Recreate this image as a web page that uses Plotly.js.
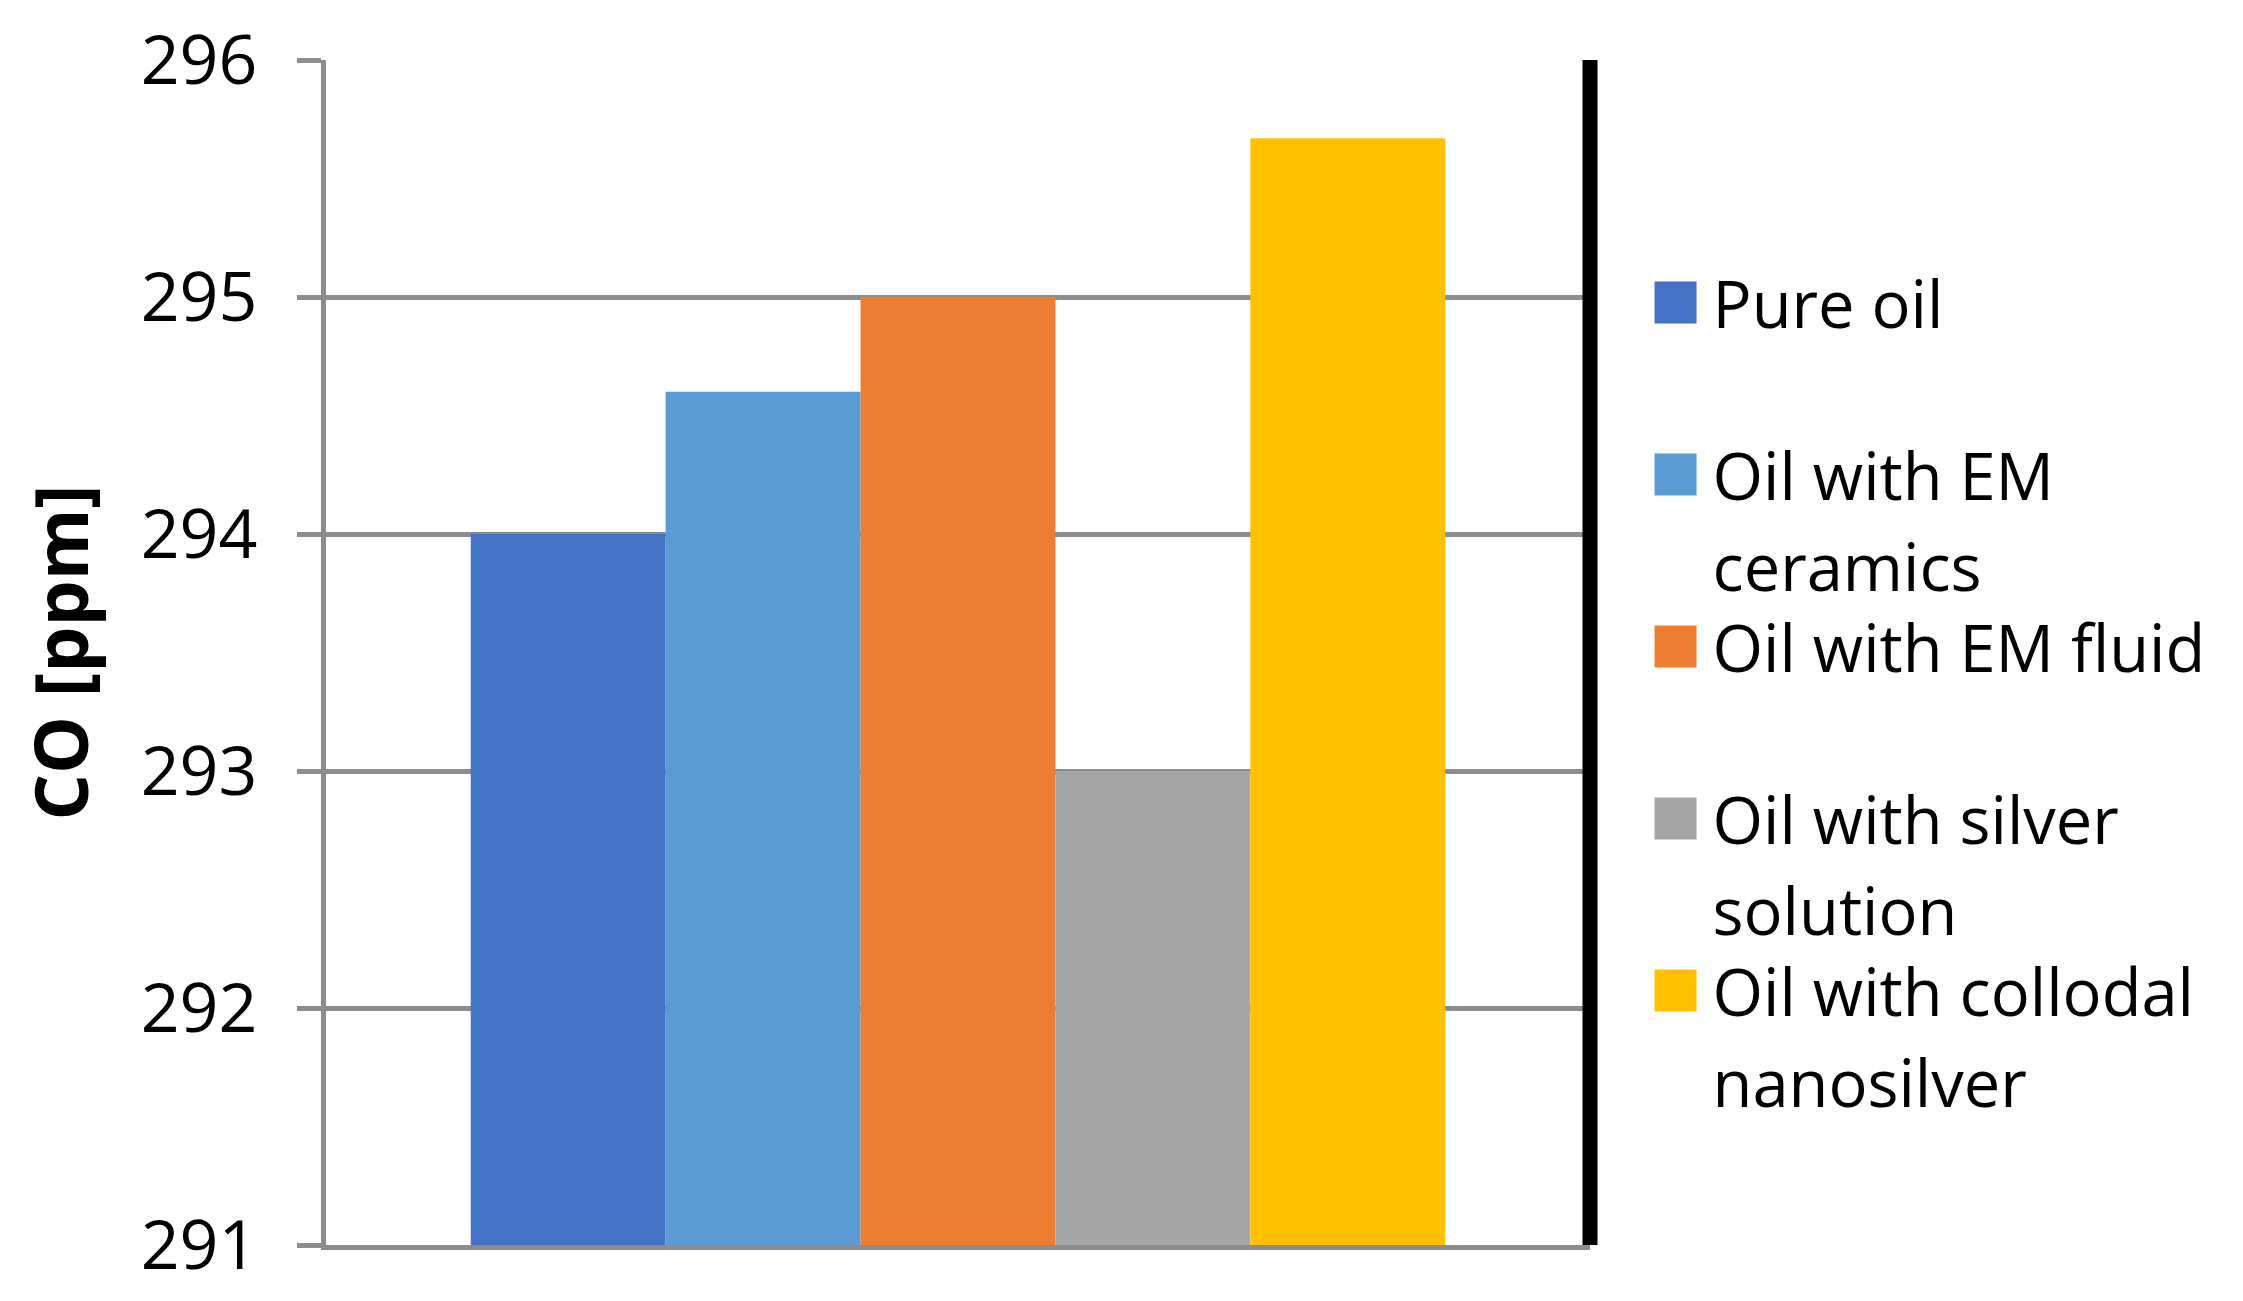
<!DOCTYPE html>
<html><head><meta charset="utf-8">
<script src="https://cdn.plot.ly/plotly-3.0.1.min.js"></script>
<style>html,body{margin:0;padding:0;background:#fff}#chart{width:2243px;height:1301px}</style>
</head><body><div id="chart"></div>
<script>
// ---- data ----
const seriesNames = ['Pure oil', 'Oil with EM<br>ceramics', 'Oil with EM fluid', 'Oil with silver<br>solution', 'Oil with collodal<br>nanosilver'];
const coValues = [294.0, 294.6, 295.0, 293.0, 295.67];
const seriesColors = ['#4472C4', '#5B9BD5', '#ED7D31', '#A5A5A5', '#FFC000'];
const category = [''];
const yTickValues = [291, 292, 293, 294, 295, 296];
const yAxisTitle = 'CO [ppm]';

const GRID = '#8c8c8c';
const FONT = 'Open Sans, Liberation Sans, sans-serif';

const traces = seriesNames.map((name, i) => ({
  type: 'bar',
  x: category,
  y: [coValues[i]],
  name: name.includes('<br>') ? name : name + '<br>\u00a0',
  legendgroup: 'g' + i,
  marker: {color: seriesColors[i], line: {width: 0}},
  hoverinfo: 'skip'
}));

const layout = {
  width: 2243, height: 1301,
  paper_bgcolor: '#fff', plot_bgcolor: '#fff',
  margin: {l: 326, r: 653, t: 60, b: 56, pad: 0},
  barmode: 'group', bargap: 0.229, bargroupgap: 0,
  font: {family: FONT, color: '#000'},
  xaxis: {
    type: 'category', range: [-0.5, 0.5], showticklabels: false, ticks: '',
    showline: true, linecolor: GRID, linewidth: 5, showgrid: false, zeroline: false, fixedrange: true
  },
  yaxis: {
    range: [291, 296], tickvals: yTickValues, ticktext: yTickValues.map(String),
    showgrid: true, gridcolor: GRID, gridwidth: 5, zeroline: false,
    showline: true, linecolor: GRID, linewidth: 5,
    ticks: 'outside', ticklen: 24, tickwidth: 5, tickcolor: GRID,
    ticklabelstandoff: 26,
    tickfont: {family: FONT, size: 68, color: '#000'},
    title: {text: '<b>' + yAxisTitle + '</b>', font: {family: FONT, size: 73, color: '#000'}, standoff: 30},
    automargin: false, fixedrange: true
  },
  showlegend: true,
  legend: {
    x: 1.0384, xanchor: 'left', y: 0.8366, yanchor: 'top',
    font: {family: FONT, size: 65, color: '#000'},
    valign: 'top', itemwidth: 64, tracegroupgap: 0,
    bgcolor: 'rgba(0,0,0,0)', borderwidth: 0
  },
  shapes: [{
    type: 'line', xref: 'paper', yref: 'paper', x0: 1, x1: 1, y0: 0, y1: 1,
    line: {color: '#000', width: 15}, layer: 'above'
  }]
};

Plotly.newPlot('chart', traces, layout, {displayModeBar: false, responsive: false}).then(gd => {
  gd.querySelectorAll('.legend .legendpoints path').forEach(p => p.setAttribute('d', 'M21,21H-21V-21H21Z'));
  gd.querySelectorAll('.legend .legendtext tspan.line').forEach(t => {
    const dy = t.getAttribute('dy');
    if (dy && parseFloat(dy) > 0) t.setAttribute('dy', '1.4em');
  });
});
</script>
</body></html>
